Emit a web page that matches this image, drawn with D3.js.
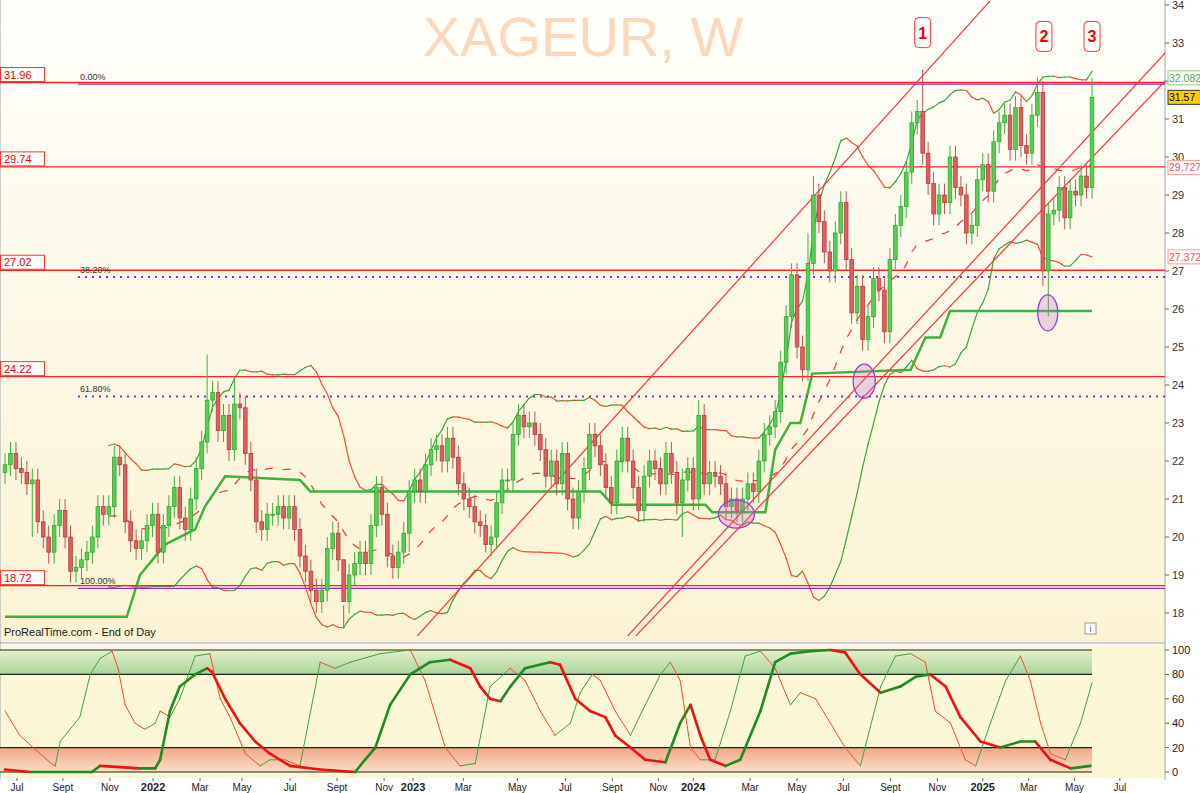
<!DOCTYPE html>
<html><head><meta charset="utf-8">
<script src="https://cdn.jsdelivr.net/npm/d3@7/dist/d3.min.js"></script>
<style>body{margin:0;background:#fff}svg{display:block;font-family:Arial,"Liberation Sans",sans-serif}</style>
</head><body><svg id="c" width="1200" height="793"></svg>
<script>
// ---- data ----
const closes=[21.9,22.2,21.8,21.7,21.4,21.5,20.4,20.0,19.6,20.3,
20.7,20.0,19.1,19.2,19.4,19.6,20.0,20.8,20.6,20.8,
22.1,21.9,20.4,19.9,19.7,19.9,20.3,20.6,19.6,20.3,
20.8,21.3,20.5,20.2,21.0,21.8,22.5,23.6,23.8,22.8,
23.2,22.3,23.5,23.4,22.2,21.5,20.4,20.2,20.6,20.6,
20.8,20.5,20.8,20.2,19.5,19.1,18.6,18.3,18.6,19.7,
20.1,19.4,18.3,19.0,19.3,19.6,19.3,20.3,21.3,20.6,
19.5,19.2,19.6,20.1,21.2,21.5,21.2,21.9,22.3,22.4,
22.0,22.6,22.1,21.4,21.0,20.8,20.4,20.3,19.8,20.0,
20.9,21.5,21.5,22.7,23.2,22.9,23.0,22.7,22.3,21.6,
22.0,21.4,22.2,21.0,20.5,21.2,21.8,22.7,22.4,21.9,
21.3,20.9,22.0,22.6,22.0,21.3,20.7,21.6,22.0,21.8,
21.4,22.2,21.7,20.9,21.5,21.8,21.0,23.2,21.4,21.7,
21.6,21.4,20.8,21.0,20.7,21.0,21.4,21.2,22.0,22.7,
22.9,23.3,24.6,25.8,26.9,25.0,24.4,27.2,29.0,28.3,
27.5,27.0,28.0,28.8,27.3,25.9,26.6,25.2,25.8,26.8,
26.5,25.4,27.3,28.2,28.7,29.6,30.9,31.2,30.1,29.3,
28.5,29.0,28.8,30.0,29.2,29.0,28.0,28.2,29.4,29.8,
29.1,30.4,30.9,31.1,30.2,31.3,30.3,30.1,31.1,31.7,
27.0,28.5,28.6,29.2,28.4,29.1,29.0,29.5,29.2,31.57];
const firstOpen=21.7;
const defaultWick=0.3;
const wickHighs={37:24.8,42:24.2,62:18.2,127:23.6,147:28.0,148:29.5,168:32.3,189:32.1,199:32.08};
const wickLows={5:20.0,62:17.6,74:19.6,88:19.6,124:20.0,190:26.6,191:25.8};
const stepLine=[[0,17.9],[22.3,17.9],[24.7,19.0],[29.3,19.8],[34.8,20.2],[36.6,20.8],[40.3,21.6],[54,21.5],[55.9,21.2],[109,21.2],[111.2,20.85],[128.2,20.85],[129.5,20.65],[139.2,20.65],[141,22.3],[143.8,23.0],[145.6,23.0],[147.8,24.3],[165.8,24.4],[168.5,25.25],[171.2,25.25],[173,25.95],[199,25.95]];
const levels=[31.96,29.74,27.02,24.22,18.72];
const fibLevels=[{p:31.92,t:"0.00%",dot:false},{p:26.84,t:"38.20%",dot:true},{p:23.7,t:"61.80%",dot:true},{p:18.65,t:"100.00%",dot:false}];
const priceTicks=[18,19,20,21,22,23,24,25,26,27,28,29,30,31,32,33,34];
const oscTicks=[0,20,40,60,80,100];
const timeLabels=["Jul","Sept","Nov","2022","Mar","May","Jul","Sept","Nov","2023","Mar","May","Jul","Sept","Nov","2024","Mar","May","Jul","Sept","Nov","2025","Mar","May","Jul"];
const timeIdx=[2.2,10.6,19.2,27.1,35.7,43.4,52.2,60.8,69.4,74.7,83.9,93.8,102.6,111.2,119.6,126,136.4,145,153.5,162.1,170.7,179,187.4,195.8,204.1];
const trendLines=[[[75.5,17.4],[180.3,34.1]],[[114,17.4],[216,33.3]],[[115.5,17.4],[219,33.0]]];
const ellipses=[{i:133.9,p:20.6,rx:18,ry:14},{i:157.3,p:24.1,rx:11,ry:17},{i:190.9,p:25.9,rx:10,ry:18}];
const marks=[{t:"1",i:168,p:33.3},{t:"2",i:190.2,p:33.2},{t:"3",i:199,p:33.2}];
// oscillator series [bar position, value]
const oscFast=[[0,50],[2.7,30],[6.4,15],[8.2,8],[9.2,5],[10.1,25],[11.9,35],[13.7,45],[15.6,80],[17.4,93],[19.6,99],[20.7,85],[22,55],[23.8,40],[25.6,35],[27.5,40],[28.4,50],[30.2,45],[32,60],[34.8,95],[37.5,97],[39.4,60],[41.2,45],[44,15],[46.7,5],[48.5,10],[51.3,10],[54,5],[57.7,90],[60.4,85],[63.2,90],[68.7,97],[74.2,100],[76.9,75],[80.6,20],[83.3,5],[86.1,7],[88.8,70],[92.5,85],[95.2,75],[98,50],[100.7,30],[103.5,40],[105.3,65],[107.5,80],[109,75],[111.7,50],[114.5,30],[117.2,55],[120,80],[121.8,90],[123.6,75],[125.5,20],[127.3,10],[130,10],[132.8,50],[135.5,95],[138.3,99],[141,85],[143.8,55],[145.6,65],[148.4,60],[151.1,40],[153.8,20],[156.6,5],[160.3,70],[163,95],[165.8,97],[168.5,90],[170.3,50],[173.1,40],[175.8,10],[177.7,5],[180.4,40],[183.2,75],[185.9,95],[187.7,75],[189.6,40],[191.4,15],[194.1,10],[196.9,40],[199,73]];
const oscSlow=[[0,2],[4.6,0],[15.9,0],[17.4,5],[24.7,3],[27.5,3],[28.4,10],[30.2,50],[32,70],[34.8,80],[37,85],[37.9,82],[40.3,60],[43,40],[45.8,25],[48.5,15],[52.2,5],[57.7,2],[64.1,0],[65.9,10],[67.8,20],[70.5,55],[74.2,80],[77.8,90],[81.5,92],[85.2,85],[87,70],[88.8,60],[90.7,58],[92.5,70],[95.2,85],[99.8,90],[101.6,88],[104.4,60],[107.1,50],[109.9,45],[111.7,30],[114.5,20],[117.2,10],[120.9,8],[123.6,40],[125.5,55],[127.3,30],[129.1,10],[131.9,5],[134.6,10],[138.3,50],[141,90],[143.8,97],[147.4,99],[151.1,100],[153.8,98],[156.6,80],[160.3,65],[163.9,70],[166.7,78],[169.4,80],[172.2,70],[174.9,45],[178.6,25],[182.2,20],[185.9,25],[188.6,25],[191.4,10],[195.1,3],[198.7,5]];

// ---- derived OHLC ----
const bars=closes.map((c,i)=>{const o=i?closes[i-1]:firstOpen;
 return {i,o,c,h:wickHighs[i]??Math.max(o,c)+defaultWick,l:wickLows[i]??Math.min(o,c)-defaultWick};});

const svg=d3.select("#c");
const x=d3.scaleLinear().domain([0,199]).range([5,1092]);
const y=d3.scaleLinear().domain([18,34]).range([613,5]);
const yo=d3.scaleLinear().domain([0,100]).range([772,650]);

const defs=svg.append("defs");
const g1=defs.append("linearGradient").attr("id","bg").attr("x1",0).attr("y1",0).attr("x2",0).attr("y2",1);
g1.append("stop").attr("offset",0).attr("stop-color","#fffefa");g1.append("stop").attr("offset",1).attr("stop-color","#fbf3d3");
const gg=defs.append("linearGradient").attr("id","gz").attr("x1",0).attr("y1",0).attr("x2",0).attr("y2",1);
gg.append("stop").attr("offset",0).attr("stop-color","#e4f0cc");gg.append("stop").attr("offset",1).attr("stop-color","#a9d49a");
const gr=defs.append("linearGradient").attr("id","rz").attr("x1",0).attr("y1",0).attr("x2",0).attr("y2",1);
gr.append("stop").attr("offset",0).attr("stop-color","#f1a58a");gr.append("stop").attr("offset",1).attr("stop-color","#fbe0c4");

svg.append("rect").attr("x",0).attr("y",0).attr("width",1165).attr("height",642).attr("fill","url(#bg)");
svg.append("rect").attr("x",0).attr("y",645).attr("width",1165).attr("height",133).attr("fill","#fcf7d6");
svg.append("rect").attr("x",1165).attr("y",0).attr("width",35).attr("height",793).attr("fill","#fff");
svg.append("line").attr("x1",1165).attr("x2",1165).attr("y1",0).attr("y2",780).attr("stroke","#9aa");
svg.append("line").attr("x1",0).attr("x2",1165).attr("y1",643).attr("y2",643).attr("stroke","#999");
svg.append("line").attr("x1",0).attr("x2",0).attr("y1",0).attr("y2",780).attr("stroke","#9aa");

svg.append("text").attr("x",583).attr("y",56).attr("text-anchor","middle").attr("font-size",56).attr("fill","#fbd7bd").text("XAGEUR, W");

// Bollinger
const N=20;
const bb=bars.map((b,i)=>{if(i<N-1)return null;const s=closes.slice(i-N+1,i+1);const m=d3.mean(s),sd=d3.deviation(s)*Math.sqrt((N-1)/N);return {i,m,u:m+2*sd,d:m-2*sd};}).filter(Boolean);
function slopeLine(pts,key,yS,w){for(let k=1;k<pts.length;k++){const a=pts[k-1],b=pts[k];
 svg.append("line").attr("x1",x(a.i)).attr("x2",x(b.i)).attr("y1",yS(a[key])).attr("y2",yS(b[key]))
 .attr("stroke",b[key]>=a[key]?(w>2?"#1e8c1e":"#3aa63a"):(w>2?"#f01010":"#f0502a")).attr("stroke-width",w).attr("stroke-linecap","round");}}
slopeLine(bb,"u",y,1.2);slopeLine(bb,"d",y,1.2);
svg.append("path").datum(bb).attr("d",d3.line().x(d=>x(d.i)).y(d=>y(d.m))).attr("fill","none").attr("stroke","#ee3a3a").attr("stroke-width",1.2).attr("stroke-dasharray","8,10");

// step line
svg.append("path").datum(stepLine).attr("d",d3.line().x(d=>x(d[0])).y(d=>y(d[1]))).attr("fill","none").attr("stroke","#3cb43c").attr("stroke-width",2.5);

// levels
levels.forEach(p=>{svg.append("line").attr("x1",0).attr("x2",1165).attr("y1",y(p)).attr("y2",y(p)).attr("stroke","#f22").attr("stroke-width",1.3);
 svg.append("rect").attr("x",0.5).attr("y",y(p)-15).attr("width",44).attr("height",14).attr("fill","#fff").attr("stroke","#f33");
 svg.append("text").attr("x",4).attr("y",y(p)-4).attr("font-size",11).attr("fill","#e00").text(p.toFixed(2));});
fibLevels.forEach(f=>{svg.append("line").attr("x1",78).attr("x2",1165).attr("y1",y(f.p)).attr("y2",y(f.p)).attr("stroke","#8a2be2").attr("stroke-width",f.dot?2:1.3).attr("stroke-dasharray",f.dot?"2,5":null);
 svg.append("text").attr("x",80).attr("y",y(f.p)-4).attr("font-size",9).attr("fill","#333").text(f.t);});

// trend lines
svg.append("clipPath").attr("id","cl").append("rect").attr("width",1165).attr("height",640);
trendLines.forEach(t=>svg.append("line").attr("clip-path","url(#cl)").attr("x1",x(t[0][0])).attr("y1",y(t[0][1])).attr("x2",x(t[1][0])).attr("y2",y(t[1][1])).attr("stroke","#f33").attr("stroke-width",1.2));

// candles
const cw=3.6;
const cg=svg.append("g");
bars.forEach(b=>{const up=b.c>=b.o;const col=up?"#2fa82f":"#b83a3a";const fill=up?"#55d055":"#e06060";
 cg.append("line").attr("x1",x(b.i)).attr("x2",x(b.i)).attr("y1",y(b.h)).attr("y2",y(b.l)).attr("stroke",up?"#3bb03b":"#b55");
 const t=y(Math.max(b.o,b.c)),bt=y(Math.min(b.o,b.c));
 cg.append("rect").attr("x",x(b.i)-cw/2).attr("y",t).attr("width",cw).attr("height",Math.max(1,bt-t)).attr("fill",fill).attr("stroke",col).attr("stroke-width",0.8);});

ellipses.forEach(e=>svg.append("ellipse").attr("cx",x(e.i)).attr("cy",y(e.p)).attr("rx",e.rx).attr("ry",e.ry).attr("fill","rgba(190,120,200,0.3)").attr("stroke","#9a3fd0").attr("stroke-width",1.3));
marks.forEach(m=>{svg.append("rect").attr("x",x(m.i)-8).attr("y",y(m.p)-14).attr("width",16).attr("height",30).attr("rx",4).attr("fill","#fff").attr("stroke","#f33");
 svg.append("text").attr("x",x(m.i)).attr("y",y(m.p)+7).attr("text-anchor","middle").attr("font-size",16).attr("font-weight","bold").attr("fill","#e00").text(m.t);});

// right axis
priceTicks.forEach(p=>{svg.append("line").attr("x1",1165).attr("x2",1169).attr("y1",y(p)).attr("y2",y(p)).attr("stroke","#666");
 svg.append("text").attr("x",1172).attr("y",y(p)+4).attr("font-size",11).attr("fill","#333").text(p);});
const tags=[{p:32.082,t:"32.082",f:"#fff",s:"#8c8",c:"#5a5"},{p:31.57,t:"31.57",f:"#ffcc00",s:"#333",c:"#000"},{p:29.727,t:"29.727",f:"#fff",s:"#f99",c:"#e55"},{p:27.372,t:"27.372",f:"#fff",s:"#f99",c:"#e55"}];
tags.forEach(tg=>{svg.append("rect").attr("x",1168).attr("y",y(tg.p)-7).attr("width",34).attr("height",14).attr("fill",tg.f).attr("stroke",tg.s);
 svg.append("text").attr("x",1169).attr("y",y(tg.p)+4).attr("font-size",10.5).attr("fill",tg.c).text(tg.t);});
svg.append("text").attr("x",4).attr("y",636).attr("font-size",11).attr("fill","#222").text("ProRealTime.com - End of Day");
svg.append("rect").attr("x",1085).attr("y",623).attr("width",11).attr("height",11).attr("fill","#fff").attr("stroke","#999");
svg.append("text").attr("x",1090.5).attr("y",632).attr("text-anchor","middle").attr("font-size",9).attr("fill","#555").text("i");

// oscillator
svg.append("rect").attr("x",0).attr("y",yo(100)).attr("width",1092).attr("height",yo(80)-yo(100)).attr("fill","url(#gz)");
svg.append("rect").attr("x",0).attr("y",yo(20)).attr("width",1092).attr("height",yo(0)-yo(20)).attr("fill","url(#rz)");
[100,80,20,0].forEach(v=>svg.append("line").attr("x1",0).attr("x2",1092).attr("y1",yo(v)).attr("y2",yo(v)).attr("stroke","#222").attr("stroke-width",1.2));
const fast=oscFast.map(d=>({i:d[0],v:d[1]})), slow=oscSlow.map(d=>({i:d[0],v:d[1]}));
slopeLine(fast,"v",yo,1);slopeLine(slow,"v",yo,2.6);
oscTicks.forEach(v=>{svg.append("line").attr("x1",1165).attr("x2",1169).attr("y1",yo(v)).attr("y2",yo(v)).attr("stroke","#666");
 svg.append("text").attr("x",1172).attr("y",yo(v)+4).attr("font-size",11).attr("fill","#222").text(v);});
// x axis
timeLabels.forEach((t,k)=>{const yr=/^\d{4}$/.test(t);svg.append("line").attr("x1",x(timeIdx[k])).attr("x2",x(timeIdx[k])).attr("y1",778).attr("y2",781).attr("stroke","#666");
 svg.append("text").attr("x",x(timeIdx[k])).attr("y",791).attr("text-anchor","middle").attr("font-size",yr?11:10).attr("font-weight",yr?"bold":null).attr("fill","#222").text(t);});
</script></body></html>
